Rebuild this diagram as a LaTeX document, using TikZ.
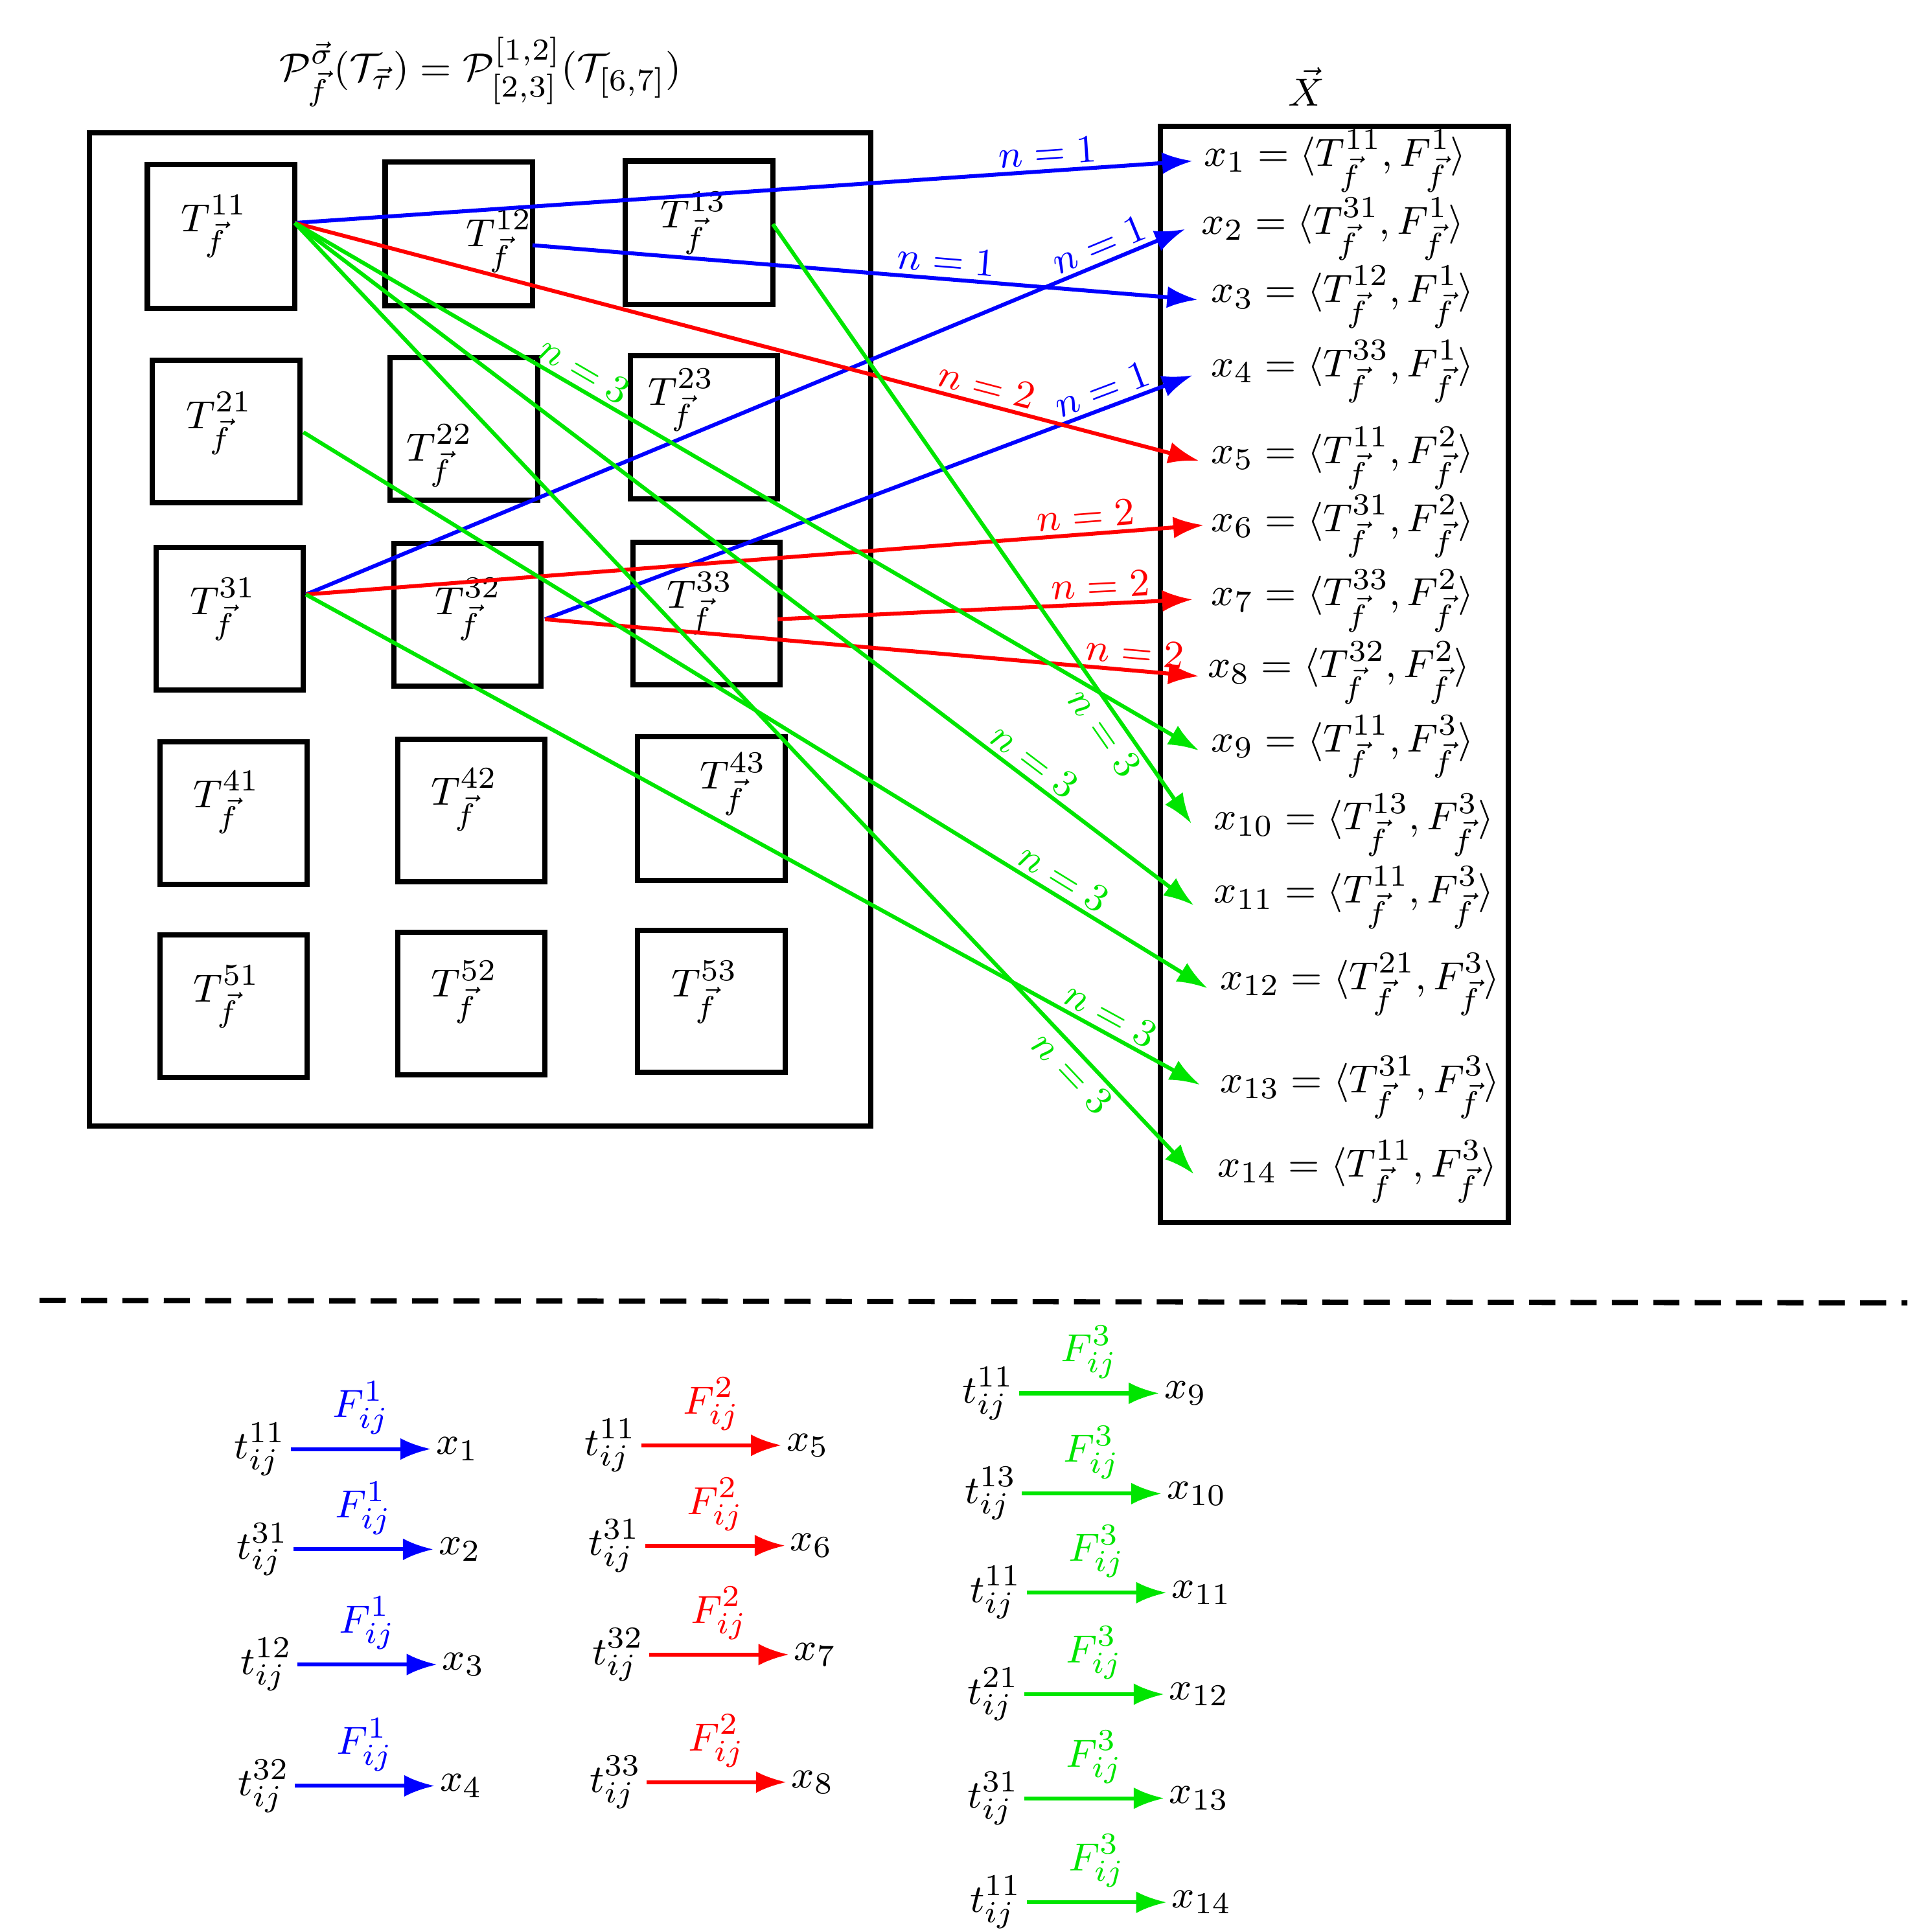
\documentclass[tikz,border=0pt]{standalone}
\usetikzlibrary{arrows.meta}
\newcommand{\fsz}{\fontsize{9.4}{11}\selectfont}
\begin{document}
\begin{tikzpicture}[x=0.01cm,y=-0.01cm,
  box/.style={draw,line width=1.2pt},
  arr/.style={line width=0.9pt,-{Latex[length=7pt,width=5pt]}},
  lab/.style={font=\fsz,sloped,above,inner sep=1pt},
  bl/.style={arr,blue}, rd/.style={arr,red}, gr/.style={arr,green!90!black},
  tl/.style={font=\fsz,inner sep=1pt}]
\useasboundingbox (0,0) rectangle (1560,1560);
\node[font=\fsz] (title) at (388,58) {$\mathcal{P}^{\vec\sigma}_{\vec f}(\mathcal{T}_{\vec\tau})=\mathcal{P}^{[1,2]}_{[2,3]}(\mathcal{T}_{[6,7]})$};
\node[font=\fsz] (X) at (1055,70) {$\vec X$};
\draw[box] (72,107) rectangle (703,909);
\draw[box] (937,102) rectangle (1218,987);
% small boxes
\draw[box] (119,133) rectangle (238,249); \node[tl] (t11) at (173,183) {$T^{11}_{\vec f}$};
\draw[box] (311,131) rectangle (430,247); \node[tl] (t12) at (403,195) {$T^{12}_{\vec f}$};
\draw[box] (505,130) rectangle (624,246); \node[tl] (t13) at (560,180) {$T^{13}_{\vec f}$};
\draw[box] (123,291) rectangle (242,406); \node[tl] (t21) at (177,342) {$T^{21}_{\vec f}$};
\draw[box] (315,289) rectangle (434,404); \node[tl] (t22) at (355,368) {$T^{22}_{\vec f}$};
\draw[box] (509,287) rectangle (628,403); \node[tl] (t23) at (550,323) {$T^{23}_{\vec f}$};
\draw[box] (126,442) rectangle (245,557); \node[tl] (t31) at (180,492) {$T^{31}_{\vec f}$};
\draw[box] (318,439) rectangle (437,554); \node[tl] (t32) at (378,492) {$T^{32}_{\vec f}$};
\draw[box] (511,438) rectangle (630,553); \node[tl] (t33) at (565,487) {$T^{33}_{\vec f}$};
\draw[box] (129,599) rectangle (248,714); \node[tl] (t41) at (183,648) {$T^{41}_{\vec f}$};
\draw[box] (321,597) rectangle (440,712); \node[tl] (t42) at (375,646) {$T^{42}_{\vec f}$};
\draw[box] (515,595) rectangle (634,711); \node[tl] (t43) at (592,633) {$T^{43}_{\vec f}$};
\draw[box] (129,755) rectangle (248,870); \node[tl] (t51) at (183,805) {$T^{51}_{\vec f}$};
\draw[box] (321,753) rectangle (440,868); \node[tl] (t52) at (375,801) {$T^{52}_{\vec f}$};
\draw[box] (515,751) rectangle (634,866); \node[tl] (t53) at (569,801) {$T^{53}_{\vec f}$};
% start coordinates
\coordinate (s11) at (238,180);
\coordinate (s12) at (430,198);
\coordinate (s13) at (624,181);
\coordinate (s21) at (245,349);
\coordinate (s31) at (247,480);
\coordinate (s32) at (440,500);
\coordinate (s33) at (628,500);
% x labels
\node[tl,anchor=west] (x1) at (968,130) {$x_1=\langle T^{11}_{\vec f},F^{1}_{\vec f}\rangle$};
\node[tl,anchor=west] (x2) at (966,185) {$x_2=\langle T^{31}_{\vec f},F^{1}_{\vec f}\rangle$};
\node[tl,anchor=west] (x3) at (974,240) {$x_3=\langle T^{12}_{\vec f},F^{1}_{\vec f}\rangle$};
\node[tl,anchor=west] (x4) at (974,300) {$x_4=\langle T^{33}_{\vec f},F^{1}_{\vec f}\rangle$};
\node[tl,anchor=west] (x5) at (974,370) {$x_5=\langle T^{11}_{\vec f},F^{2}_{\vec f}\rangle$};
\node[tl,anchor=west] (x6) at (974,425) {$x_6=\langle T^{31}_{\vec f},F^{2}_{\vec f}\rangle$};
\node[tl,anchor=west] (x7) at (974,485) {$x_7=\langle T^{33}_{\vec f},F^{2}_{\vec f}\rangle$};
\node[tl,anchor=west] (x8) at (971,543) {$x_8=\langle T^{32}_{\vec f},F^{2}_{\vec f}\rangle$};
\node[tl,anchor=west] (x9) at (974,603) {$x_9=\langle T^{11}_{\vec f},F^{3}_{\vec f}\rangle$};
\node[tl,anchor=west] (x10) at (976,666) {$x_{10}=\langle T^{13}_{\vec f},F^{3}_{\vec f}\rangle$};
\node[tl,anchor=west] (x11) at (976,725) {$x_{11}=\langle T^{11}_{\vec f},F^{3}_{\vec f}\rangle$};
\node[tl,anchor=west] (x12) at (981,795) {$x_{12}=\langle T^{21}_{\vec f},F^{3}_{\vec f}\rangle$};
\node[tl,anchor=west] (x13) at (981,878) {$x_{13}=\langle T^{31}_{\vec f},F^{3}_{\vec f}\rangle$};
\node[tl,anchor=west] (x14) at (979,946) {$x_{14}=\langle T^{11}_{\vec f},F^{3}_{\vec f}\rangle$};
% end coordinates
\coordinate (e1) at (963,130); \coordinate (e2) at (957,185);
\coordinate (e3) at (967,242); \coordinate (e4) at (963,303);
\coordinate (e5) at (968,372); \coordinate (e6) at (972,424);
\coordinate (e7) at (963,484); \coordinate (e8) at (968,546);
\coordinate (e9) at (968,606); \coordinate (e10) at (962,665);
\coordinate (e11) at (964,731); \coordinate (e12) at (975,798);
\coordinate (e13) at (969,876); \coordinate (e14) at (964,948);
% arrows
\draw[bl] (s11) -- node[lab,pos=0.84,text=blue]{$n=1$} (e1);
\draw[bl] (s31) -- node[lab,pos=0.91,text=blue]{$n=1$} (e2);
\draw[bl] (s12) -- node[lab,pos=0.62,text=blue]{$n=1$} (e3);
\draw[bl] (s32) -- node[lab,pos=0.87,text=blue]{$n=1$} (e4);
\draw[rd] (s11) -- node[lab,pos=0.76,text=red]{$n=2$} (e5);
\draw[rd] (s31) -- node[lab,pos=0.87,text=red]{$n=2$} (e6);
\draw[rd] (s33) -- node[lab,pos=0.78,text=red]{$n=2$} (e7);
\draw[rd] (s32) -- node[lab,pos=0.90,text=red]{$n=2$} (e8);
\draw[gr] (s11) -- node[lab,pos=0.31,text=green!90!black]{$n=3$} (e9);
\draw[gr] (s13) -- node[lab,below,pos=0.83,text=green!90!black]{$n=3$} (e10);
\draw[gr] (s11) -- node[lab,pos=0.81,text=green!90!black]{$n=3$} (e11);
\draw[gr] (s21) -- node[lab,pos=0.83,text=green!90!black]{$n=3$} (e12);
\draw[gr] (s31) -- node[lab,pos=0.89,text=green!90!black]{$n=3$} (e13);
\draw[gr] (s11) -- node[lab,below,pos=0.88,text=green!90!black]{$n=3$} (e14);
% separator
\coordinate (d1) at (32,1050); \coordinate (d2) at (1540,1052);
\draw[line width=1.2pt,dash pattern=on 6pt off 3.5pt] (d1) -- (d2);
% legend
\foreach \i/\t/\y/\c/\k/\X/\x in {
  a1/11/1170/blue/1/1/210, a2/31/1251/blue/1/2/212, a3/12/1344/blue/1/3/215, a4/32/1442/blue/1/4/213,
  b1/11/1167/red/2/5/493, b2/31/1248/red/2/6/496, b3/32/1336/red/2/7/499, b4/33/1439/red/2/8/497,
  c1/11/1125/green!90!black/3/9/798, c2/13/1206/green!90!black/3/10/800, c3/11/1286/green!90!black/3/11/804,
  c4/21/1368/green!90!black/3/12/802, c5/31/1452/green!90!black/3/13/802, c6/11/1536/green!90!black/3/14/804}{
  \node[tl,anchor=east] (\i s) at (\x+25,\y) {$t^{\t}_{ij}$};
  \node[tl,anchor=west] (\i e) at (\x+138,\y) {$x_{\X}$};
  \draw[arr,\c] (\i s.east) -- node[above,font=\fsz,text=\c,inner sep=3pt]{$F^{\k}_{ij}$} (\i e.west);
}
\end{tikzpicture}
\end{document}
